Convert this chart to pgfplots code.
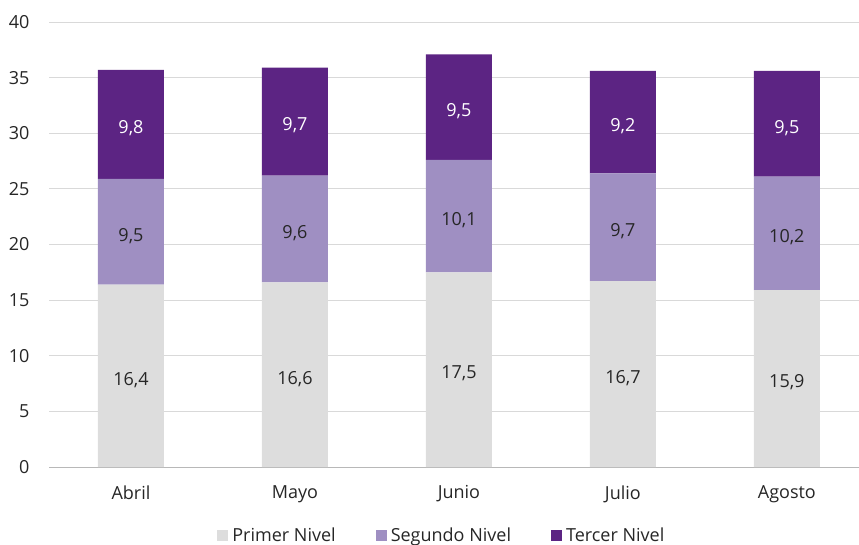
\documentclass[border=0pt]{standalone}
\usepackage{pgfplots}
\usepackage{pgfplotstable}
\pgfplotsset{compat=1.18}
\usepackage{fontspec}
\setmainfont{Open Sans}
\definecolor{primer}{HTML}{DDDDDD}
\definecolor{segundo}{HTML}{9F8FC2}
\definecolor{tercer}{HTML}{5C2483}
\definecolor{gridc}{HTML}{D9D9D9}
\pgfplotstableread{
x p s t
0 16.4 9.5 9.8
1 16.6 9.6 9.7
2 17.5 10.1 9.5
3 16.7 9.7 9.2
4 15.9 10.2 9.5
}\datos
\begin{document}
\begin{tikzpicture}
\path[use as bounding box] (0,0) rectangle (859pt,544pt);
\begin{axis}[
  at={(49pt,77pt)}, anchor=south west,
  scale only axis, width=810pt, height=445pt,
  ybar stacked, bar width=66pt,
  xmin=-0.5, xmax=4.44, ymin=0, ymax=40,
  ytick={0,5,...,40},
  xtick={0,1,2,3,4},
  xticklabels={Abril,Mayo,Junio,Julio,Agosto},
  ymajorgrids, grid style={gridc, line width=1pt},
  axis line style={draw=none},
  extra y ticks={0}, extra y tick style={grid style={gridc!85!black, line width=1pt}, yticklabel=\empty},
  tick style={draw=none},
  font=\fontsize{18pt}{21pt}\selectfont,
  ticklabel style={font=\fontsize{18pt}{21pt}\selectfont, text=black!85},
  yticklabel style={xshift=-16pt},
  xticklabel style={yshift=-15pt},
  /pgf/number format/assume math mode=true,
  nodes near coords={\pgfmathprintnumber[fixed, fixed zerofill, precision=1, use comma, assume math mode=true]{\pgfplotspointmeta}},
  every node near coord/.append style={anchor=center, yshift=-4pt, font=\fontsize{18pt}{21pt}\selectfont},
  legend style={at={(0.485,-0.153)}, anchor=center, legend columns=3, draw=none, fill=none,
    font=\fontsize{18pt}{21pt}\selectfont, text=black!85,
    /tikz/every even column/.append style={column sep=38pt},
    /tikz/every odd column/.append style={column sep=2pt}},
  legend image code/.code={\fill[#1] (0pt,-5.5pt) rectangle (11pt,5.5pt);},
]
\addplot[fill=primer, draw=none, nodes near coords style={text=black!85}] table[x=x, y=p] {\datos};
\addlegendentry{Primer Nivel}
\addplot[fill=segundo, draw=none, nodes near coords style={text=black!85}] table[x=x, y=s] {\datos};
\addlegendentry{Segundo Nivel}
\addplot[fill=tercer, draw=none, nodes near coords style={text=white}] table[x=x, y=t] {\datos};
\addlegendentry{Tercer Nivel}
\end{axis}
\end{tikzpicture}
\end{document}
